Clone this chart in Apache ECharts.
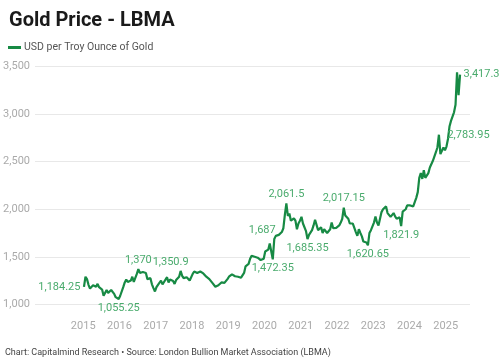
<!DOCTYPE html>
<html>
<head>
<meta charset="utf-8">
<script src="https://cdn.jsdelivr.net/npm/echarts@6/dist/echarts.min.js"></script>
<style>
html,body{margin:0;padding:0;background:#fff;}
#c{width:500px;height:360px;}
</style>
</head>
<body>
<div id="c"></div>
<script>
// Months covered (two readings per month: first half, second half)
const months = [];
for (let y = 2015; y <= 2025; y++) {
  for (let m = 1; m <= 12; m++) {
    if (y === 2025 && m > 5) break;
    months.push(y + '-' + String(m).padStart(2, '0'));
  }
}

// USD per troy ounce (first half, second half of each month)
const prices2015 = [1184.25,1290, 1265,1205, 1165,1185, 1200,1195, 1185,1215, 1180,1175, 1155,1090, 1095,1150, 1120,1135, 1150,1170, 1110,1075, 1065,1055.25];
const prices2016 = [1090,1105, 1180,1230, 1260,1235, 1240,1250, 1290,1235, 1250,1320, 1370,1330, 1350,1340, 1320,1330, 1265,1270, 1275,1210, 1170,1135];
const prices2017 = [1180,1205, 1225,1250, 1210,1235, 1260,1285, 1230,1260, 1275,1245, 1215,1255, 1275,1290, 1350.9,1300, 1275,1280, 1285,1290, 1250,1270];
const prices2018 = [1320,1345, 1330,1330, 1320,1345, 1340,1325, 1305,1290, 1300,1265, 1245,1225, 1210,1185, 1195,1200, 1210,1230, 1220,1225, 1245,1265];
const prices2019 = [1290,1300, 1315,1330, 1295,1315, 1290,1275, 1280,1285, 1330,1400, 1410,1425, 1480,1510, 1525,1500, 1490,1490, 1475,1465, 1465,1480];
const prices2020 = [1555,1560, 1575,1640, 1650,1472.35, 1687,1720, 1715,1730, 1720,1760, 1800,1940, 2061.5,1930, 1955,1880, 1900,1905, 1880,1790, 1850,1880];
const prices2021 = [1920,1850, 1830,1770, 1685.35,1730, 1745,1780, 1830,1890, 1900,1780, 1800,1810, 1750,1790, 1800,1750, 1760,1790, 1860,1800, 1780,1805];
const prices2022 = [1820,1830, 1860,1900, 2017.15,1935, 1950,1900, 1850,1830, 1850,1830, 1760,1720, 1790,1750, 1715,1660, 1670,1650, 1620.65,1750, 1780,1800];
const prices2023 = [1860,1925, 1860,1830, 1840,1970, 2000,2005, 2030,1960, 1960,1920, 1930,1960, 1925,1900, 1920,1915, 1821.9,1975, 1980,2000, 2040,2055];
const prices2024 = [2040,2025, 2030,2020, 2120,2180, 2330,2380, 2320,2410, 2330,2330, 2380,2440, 2420,2510, 2500,2600, 2650,2783.95, 2580,2600, 2650,2620];
const prices2025 = [2660,2740, 2870,2930, 2910,3020, 3100,3440, 3200,3417.3];

const prices = [].concat(prices2015, prices2016, prices2017, prices2018, prices2019,
  prices2020, prices2021, prices2022, prices2023, prices2024, prices2025);

// Annotated values
const labelValues = [1184.25, 1055.25, 1370, 1350.9, 1472.35, 1687, 2061.5, 1685.35, 2017.15, 1620.65, 1821.9, 2783.95, 3417.3];
const labelPositions = ['left','bottom','top','top','bottom','top','top','bottom','top','bottom','bottom','right','right'];

const yearTicks = [2015, 2016, 2017, 2018, 2019, 2020, 2021, 2022, 2023, 2024, 2025];

const seriesName = 'USD per Troy Ounce of Gold';

// build [x, y] points: x = decimal year at middle of each half-month
const points = prices.map((v, i) => {
  const mi = Math.floor(i / 2), h = i % 2;
  const [yy, mm] = months[mi].split('-').map(Number);
  return [yy + (mm - 1 + 0.25 + 0.5 * h) / 12, v];
});

const fmt = v => v.toLocaleString('en-US', {maximumFractionDigits: 2});

const markData = labelValues.map((v, k) => {
  const idx = prices.indexOf(v);
  const item = {
    coord: points[idx], value: v,
    label: {position: labelPositions[k], distance: 3}
  };
  if (v === 1350.9) item.label.offset = [-10, 0];
  if (v === 1687) item.label.offset = [-12, 0];
  if (v === 2783.95) item.label.distance = 8;
  return item;
});

const chart = echarts.init(document.getElementById('c'), null, {renderer: 'canvas'});
chart.setOption({
  animation: false,
  backgroundColor: '#fff',
  textStyle: {fontFamily: 'Roboto'},
  title: {
    text: 'Gold Price - LBMA',
    left: 4, top: 6,
    textStyle: {fontFamily: 'Roboto', fontWeight: 'bold', fontSize: 20, color: '#1a1a1a'}
  },
  legend: {
    data: [seriesName],
    left: 3, top: 37,
    icon: 'rect', itemWidth: 13, itemHeight: 3, itemGap: 4,
    textStyle: {fontFamily: 'Roboto', fontSize: 10.5, color: '#555', padding: [0,0,0,-2]}
  },
  graphic: [{
    type: 'text', left: 5, top: 348,
    style: {
      text: 'Chart: Capitalmind Research • Source: London Bullion Market Association (LBMA)',
      font: '9px Roboto', fill: '#444'
    }
  }],
  grid: {left: 35, right: 30, top: 66.7, bottom: 55.7, containLabel: false},
  xAxis: {
    type: 'value', min: 2013.67, max: 2025.67,
    axisLine: {show: false}, axisTick: {show: false}, splitLine: {show: false},
    axisLabel: {
      customValues: yearTicks, color: '#aaa', fontSize: 11, margin: 16,
      formatter: v => String(Math.round(v))
    }
  },
  yAxis: {
    type: 'value', min: 1000, max: 3500, interval: 500,
    axisLine: {show: false}, axisTick: {show: false},
    splitLine: {lineStyle: {color: '#e8e8e8', width: 1}},
    axisLabel: {color: '#aaa', fontSize: 11, margin: 5, formatter: v => fmt(v)}
  },
  series: [{
    name: seriesName, type: 'line', data: points,
    showSymbol: false, symbol: 'none',
    lineStyle: {color: '#178a44', width: 2.2},
    itemStyle: {color: '#178a44'},
    markPoint: {
      symbol: 'circle', symbolSize: 1,
      itemStyle: {color: 'rgba(0,0,0,0)'},
      label: {show: true, color: '#4aab6d', fontSize: 11, formatter: p => fmt(p.value)},
      data: markData
    }
  }]
});
</script>
</body>
</html>
